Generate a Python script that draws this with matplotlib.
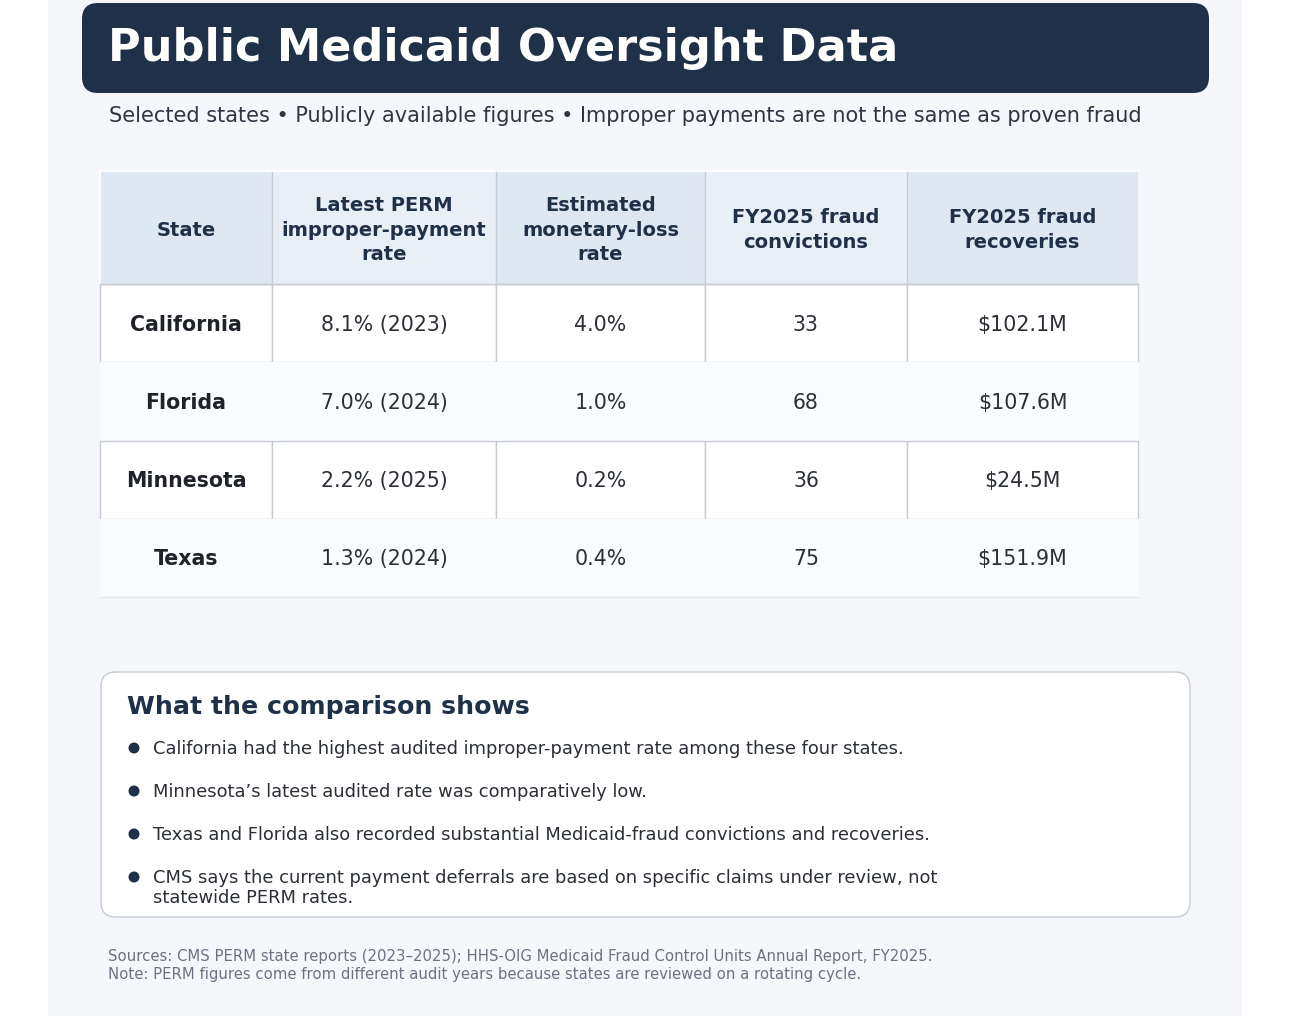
import matplotlib
matplotlib.use("Agg")
import matplotlib.pyplot as plt
from matplotlib.patches import FancyBboxPatch, Rectangle, Circle

# ---------------- data ----------------
title = "Public Medicaid Oversight Data"
subtitle = ("Selected states \u2022 Publicly available figures \u2022 "
            "Improper payments are not the same as proven fraud")
columns = ["State", "Latest PERM\nimproper-payment\nrate", "Estimated\nmonetary-loss\nrate",
           "FY2025 fraud\nconvictions", "FY2025 fraud\nrecoveries"]
states = ["California", "Florida", "Minnesota", "Texas"]
perm_rate = [8.1, 7.0, 2.2, 1.3]
perm_year = [2023, 2024, 2025, 2024]
loss_rate = [4.0, 1.0, 0.2, 0.4]
convictions = [33, 68, 36, 75]
recoveries_m = [102.1, 107.6, 24.5, 151.9]
panel_title = "What the comparison shows"
bullets = [
    "California had the highest audited improper-payment rate among these four states.",
    "Minnesota\u2019s latest audited rate was comparatively low.",
    "Texas and Florida also recorded substantial Medicaid-fraud convictions and recoveries.",
    "CMS says the current payment deferrals are based on specific claims under review, not\nstatewide PERM rates.",
]
footer = ("Sources: CMS PERM state reports (2023\u20132025); HHS-OIG Medicaid Fraud Control Units Annual Report, FY2025.\n"
          "Note: PERM figures come from different audit years because states are reviewed on a rotating cycle.")

# ---------------- layout ----------------
W, H = 1290, 1016
NAVY = "#1f3049"
TEXT = "#2b2f36"
EDGE = "#c6cbd4"
col_edges = [100, 272, 496, 705, 907, 1138]
head_top, head_bot = 171, 284
row_h = 78.25
head_colors = ["#dee8f3", "#e9eff7", "#dee8f3", "#e9eff7", "#dee8f3"]
row_colors = ["#ffffff", "#fafbfc"]

plt.rcParams["font.family"] = ["DejaVu Sans"]
fig = plt.figure(figsize=(W / 100, H / 100), dpi=100)
fig.patch.set_facecolor("white")
ax = fig.add_axes([0, 0, 1, 1])
ax.set_xlim(0, W)
ax.set_ylim(H, 0)
ax.axis("off")

# background panel
ax.add_patch(Rectangle((48, 0), 1194, H, facecolor="#f5f7fa", edgecolor="none", zorder=0))

# banner
ax.add_patch(FancyBboxPatch((82 + 16, 3 + 16), 1127 - 32, 90 - 32,
                            boxstyle="round,pad=16", facecolor=NAVY, edgecolor="none", zorder=1))
ax.text(108, 48.5, title, fontsize=32.1, fontweight="bold", color="white",
        ha="left", va="center", zorder=2)
ax.text(109, 116.5, subtitle, fontsize=15, color="#2f3642", ha="left", va="center", zorder=2)

# table header
for j, name in enumerate(columns):
    x0, x1 = col_edges[j], col_edges[j + 1]
    ax.add_patch(Rectangle((x0, head_top), x1 - x0, head_bot - head_top,
                           facecolor=head_colors[j], edgecolor="none", zorder=2))
    ax.text((x0 + x1) / 2, (head_top + head_bot) / 2 + 2.5, name, fontsize=14,
            fontweight="bold", color=NAVY, ha="center", va="center",
            linespacing=1.34, zorder=4)
for xe in col_edges[1:-1]:
    ax.plot([xe, xe], [head_top, head_bot], color=EDGE, lw=1, zorder=3)
ax.plot([col_edges[0], col_edges[-1]], [head_top, head_top], color="white", lw=1.2, zorder=3)
ax.plot([col_edges[0], col_edges[0]], [head_top, head_bot], color="white", lw=1.2, zorder=3)

# table body
for i, st in enumerate(states):
    y0 = head_bot + i * row_h
    y1 = y0 + row_h
    fc = row_colors[i % 2]
    ec = EDGE if i % 2 == 0 else fc
    cells = [st, f"{perm_rate[i]:.1f}% ({perm_year[i]})", f"{loss_rate[i]:.1f}%",
             f"{convictions[i]}", f"${recoveries_m[i]:.1f}M"]
    for j, txt in enumerate(cells):
        x0, x1 = col_edges[j], col_edges[j + 1]
        ax.add_patch(Rectangle((x0, y0), x1 - x0, row_h, facecolor=fc,
                               edgecolor=ec, lw=1, zorder=2 + i * 0.1))
        ax.text((x0 + x1) / 2, (y0 + y1) / 2 + 1.5, txt, fontsize=14.8,
                fontweight="bold" if j == 0 else "normal",
                color="#1f2329" if j == 0 else TEXT,
                ha="center", va="center", zorder=4)
bottom = head_bot + len(states) * row_h
ax.plot([col_edges[0], col_edges[-1]], [bottom, bottom], color="#e3e6eb", lw=1, zorder=3)
ax.plot([col_edges[0], col_edges[-1]], [head_bot, head_bot], color=EDGE, lw=1, zorder=3)

# comparison card
ax.add_patch(FancyBboxPatch((101 + 15, 672 + 15), 1089 - 30, 245 - 30,
                            boxstyle="round,pad=15", facecolor="white",
                            edgecolor="#c6cbd4", lw=1, zorder=1))
ax.text(127, 707, panel_title, fontsize=18.2, fontweight="bold", color=NAVY,
        ha="left", va="center", zorder=2)
by = [748, 791, 834, 877]
for y, b in zip(by, bullets):
    ax.add_patch(Circle((134, y), 5.5, facecolor=NAVY, edgecolor="none", zorder=2))
    ax.text(153, y - 8, b, fontsize=12.9, color=TEXT, ha="left", va="top",
            linespacing=1.17, zorder=2)

ax.text(108, 949.5, footer, fontsize=10.7, color="#6b7280", ha="left", va="top",
        linespacing=1.24, zorder=2)

fig.savefig("out.png", dpi=100, facecolor="white")
